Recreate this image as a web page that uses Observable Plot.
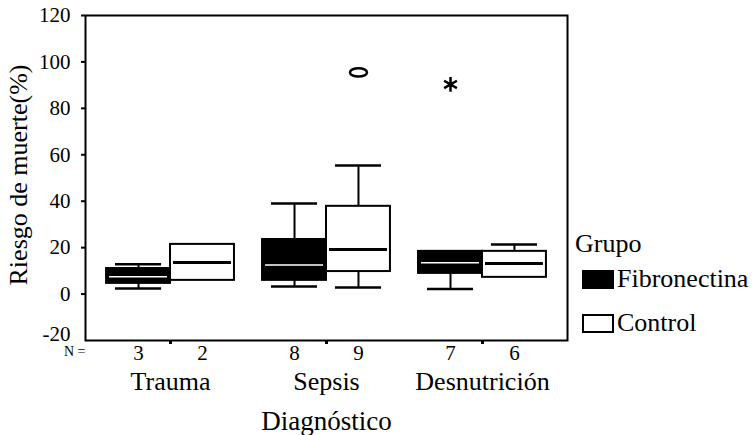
<!DOCTYPE html>
<html>
<head>
<meta charset="utf-8">
<script src="https://cdn.jsdelivr.net/npm/d3@7"></script>
<script src="https://cdn.jsdelivr.net/npm/@observablehq/plot@0.6"></script>
<style>
  body { margin: 0; background: #fff; }
  #chart { position: relative; width: 756px; height: 435px; font-family: "Liberation Serif", "Times New Roman", serif; color: #000; }
  #legend { position: absolute; left: 575px; top: 231px; font-size: 26px; line-height: 26px; }
  #legend .title { margin-bottom: 9px; }
  #legend .item { display: flex; align-items: center; margin-left: 7px; margin-bottom: 18px; }
  #legend .sw { width: 28px; height: 15px; border: 2px solid #000; box-sizing: content-box; margin-right: 3px; }
</style>
</head>
<body>
<div id="chart"></div>
<script>
// ---- data ----
const diagnoses = ["Trauma", "Sepsis", "Desnutrición"];
const groups = ["Fibronectina", "Control"];
const nFib = [3, 8, 7];
const nCtrl = [2, 9, 6];
const fibLow    = [2.4, 3.3, 2.2];
const fibQ1     = [4.6, 5.9, 8.9];
const fibMedian = [7.5, 12.5, 13.5];
const fibQ3     = [11.0, 23.5, 18.4];
const fibHigh   = [12.8, 39.0, 18.4];
const ctrlLow    = [5.9, 2.8, 7.2];
const ctrlQ1     = [5.9, 9.7, 7.2];
const ctrlMedian = [13.6, 19.2, 13.2];
const ctrlQ3     = [21.4, 37.8, 18.4];
const ctrlHigh   = [21.4, 55.4, 21.4];
const outlierDiagnosis = ["Sepsis"];
const outlierGroup = ["Control"];
const outlierValue = [95.5];
const extremeDiagnosis = ["Desnutrición"];
const extremeGroup = ["Fibronectina"];
const extremeValue = [90.3];
const yTicks = [-20, 0, 20, 40, 60, 80, 100, 120];

// ---- layout constants ----
const BW = 0.41;      // box width in category units
const CAP = 0.72;     // cap width relative to box
const FONT = "Liberation Serif";

const side = g => (g === groups[0] ? -1 : 1);
const rows = diagnoses.flatMap((d, i) => [
  {diag: d, idx: i, group: groups[0], n: nFib[i], low: fibLow[i], q1: fibQ1[i], med: fibMedian[i], q3: fibQ3[i], high: fibHigh[i]},
  {diag: d, idx: i, group: groups[1], n: nCtrl[i], low: ctrlLow[i], q1: ctrlQ1[i], med: ctrlMedian[i], q3: ctrlQ3[i], high: ctrlHigh[i]}
]).map(r => {
  const c = r.idx + side(r.group) * BW / 2;
  return {...r, c, x1: c - BW / 2, x2: c + BW / 2, cx1: c - BW * CAP / 2, cx2: c + BW * CAP / 2};
});
const nByCenter = new Map(rows.map(r => [r.c, String(r.n)]));
const centerOf = (d, g) => diagnoses.indexOf(d) + side(g) * BW / 2;
const outliers = outlierValue.map((v, i) => ({x: centerOf(outlierDiagnosis[i], outlierGroup[i]), y: v}));
const extremes = extremeValue.map((v, i) => ({x: centerOf(extremeDiagnosis[i], extremeGroup[i]), y: v}));
const yMin = yTicks[0];

const ellipse = {
  draw(ctx) {
    const rx = 8.5, ry = 4.2, k = 0.5523;
    ctx.moveTo(rx, 0);
    ctx.bezierCurveTo(rx, k * ry, k * rx, ry, 0, ry);
    ctx.bezierCurveTo(-k * rx, ry, -rx, k * ry, -rx, 0);
    ctx.bezierCurveTo(-rx, -k * ry, -k * rx, -ry, 0, -ry);
    ctx.bezierCurveTo(k * rx, -ry, rx, -k * ry, rx, 0);
    ctx.closePath();
  }
};

const plot = Plot.plot({
  width: 756,
  height: 435,
  marginLeft: 85,
  marginRight: 189,
  marginTop: 15,
  marginBottom: 95,
  style: {fontFamily: FONT, color: "#000", background: "transparent"},
  x: {domain: [-0.545, 2.545]},
  y: {domain: [yMin, 120]},
  marks: [
    // whiskers
    Plot.ruleX(rows.filter(r => r.high > r.q3), {x: "c", y1: "q3", y2: "high", stroke: "#000", strokeWidth: 2}),
    Plot.ruleX(rows.filter(r => r.low < r.q1), {x: "c", y1: "low", y2: "q1", stroke: "#000", strokeWidth: 2}),
    Plot.ruleY(rows.filter(r => r.high > r.q3), {y: "high", x1: "cx1", x2: "cx2", stroke: "#000", strokeWidth: 2.5}),
    Plot.ruleY(rows.filter(r => r.low < r.q1), {y: "low", x1: "cx1", x2: "cx2", stroke: "#000", strokeWidth: 2.5}),
    // boxes
    Plot.rect(rows, {x1: "x1", x2: "x2", y1: "q1", y2: "q3", fill: r => (r.group === groups[0] ? "#000" : "#fff"), stroke: "#000", strokeWidth: 2}),
    // medians
    Plot.ruleY(rows, {y: "med", x1: "x1", x2: "x2", stroke: r => (r.group === groups[0] ? "#fff" : "#000"), strokeWidth: r => (r.group === groups[0] ? 1.5 : 3), insetLeft: 3, insetRight: 3}),
    // outliers and extremes
    Plot.dot(outliers, {x: "x", y: "y", symbol: ellipse, r: 5, stroke: "#000", strokeWidth: 2.5, fill: "none"}),
    Plot.dot(extremes, {x: "x", y: "y", symbol: "asterisk", r: 7, stroke: "#000", strokeWidth: 2.5}),
    // axes
    Plot.axisY(yTicks.filter(t => t > yMin), {tickSize: 4, tickPadding: 11, fontSize: 21, label: null, strokeWidth: 2, tickFormat: d => String(d)}),
    Plot.axisY([yMin], {tickSize: 0, tickPadding: 15, dy: -6, fontSize: 21, label: null, tickFormat: d => String(d)}),
    Plot.axisX([0, 1, 2], {tickSize: 4, tickFormat: () => "", label: null, strokeWidth: 3}),
    Plot.axisX(rows.map(r => r.c), {tickSize: 0, tickPadding: 5, fontSize: 21, tickFormat: d => nByCenter.get(d), label: null}),
    Plot.axisX([0, 1, 2], {tickSize: 0, tickPadding: 31, fontSize: 26, tickFormat: i => diagnoses[i], label: null}),
    Plot.frame({stroke: "#000", strokeWidth: 2}),
    Plot.text(["N ="], {frameAnchor: "bottom-left", dx: 0, dy: 15, textAnchor: "end", fontSize: 14}),
    Plot.text(["Diagnóstico"], {frameAnchor: "bottom", dy: 89, fontSize: 27}),
    Plot.text(["Riesgo de muerte(%)"], {frameAnchor: "left", textAnchor: "middle", dx: -67, dy: -3, rotate: -90, fontSize: 26})
  ]
});

const chart = document.getElementById("chart");
chart.appendChild(plot);

const legend = document.createElement("div");
legend.id = "legend";
legend.innerHTML = `<div class="title">Grupo</div>` +
  groups.map((g, i) => `<div class="item"><span class="sw" style="background:${i === 0 ? "#000" : "#fff"}"></span><span>${g}</span></div>`).join("");
chart.appendChild(legend);
</script>
</body>
</html>
